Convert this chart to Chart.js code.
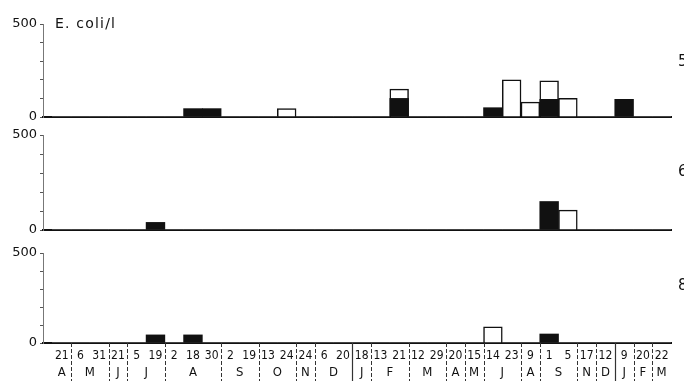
<!DOCTYPE html>
<html>
<head>
<meta charset="utf-8">
<script src="https://cdn.jsdelivr.net/npm/chart.js@4.4.0/dist/chart.umd.min.js"></script>
<style>
  body { margin: 0; width: 684px; height: 383px; overflow: hidden; background: #fff; position: relative; font-family: 'DejaVu Sans', sans-serif; color: #111; }
  canvas { position: absolute; left: 0; top: 0; }
  .unit { position: absolute; left: 55px; top: 16px; font-size: 14px; line-height: 1; letter-spacing: 1.2px; }
  .station { position: absolute; left: 678px; font-size: 15px; line-height: 1; }
</style>
</head>
<body>
<canvas id="panel5" width="684" height="383"></canvas>
<canvas id="panel6" width="684" height="383"></canvas>
<canvas id="panel8" width="684" height="383"></canvas>
<div class="unit">E. coli/l</div>
<div class="station" style="top:54px">5</div>
<div class="station" style="top:164px">6</div>
<div class="station" style="top:278px">8</div>
<script>
// sampling dates, one bar slot each
const dates = ['21', '6', '31', '21', '5', '19', '2', '18', '30', '2', '19', '13', '24', '24', '6', '20',
  '18', '13', '21', '12', '29', '20', '15', '14', '23', '9', '1', '5', '17', '12', '9', '20', '22'];

// month row: letter and index of the first slot of that month
const monthNames = ['A', 'M', 'J', 'J', 'A', 'S', 'O', 'N', 'D', 'J', 'F', 'M', 'A', 'M', 'J', 'A', 'S', 'N', 'D', 'J', 'F', 'M'];
const monthStarts = [0, 1, 3, 4, 6, 9, 11, 13, 14, 16, 17, 19, 21, 22, 23, 25, 26, 28, 29, 30, 31, 32];
const yearStarts = [16, 30];

// E. coli per litre, filled (dark) and open bars
const station5Dark = [0, 0, 0, 0, 0, 0, 0, 45, 45, 0, 0, 0, 0, 0, 0, 0, 0, 0, 100, 0, 0, 0, 0, 50, 0, 0, 95, 0, 0, 0, 95, 0, 0];
const station5Open = [0, 0, 0, 0, 0, 0, 0, 0, 0, 0, 0, 0, 45, 0, 0, 0, 0, 0, 150, 0, 0, 0, 0, 0, 200, 80, 195, 100, 0, 0, 0, 0, 0];
const station6Dark = [0, 0, 0, 0, 0, 40, 0, 0, 0, 0, 0, 0, 0, 0, 0, 0, 0, 0, 0, 0, 0, 0, 0, 0, 0, 0, 150, 0, 0, 0, 0, 0, 0];
const station6Open = [0, 0, 0, 0, 0, 0, 0, 0, 0, 0, 0, 0, 0, 0, 0, 0, 0, 0, 0, 0, 0, 0, 0, 0, 0, 0, 0, 105, 0, 0, 0, 0, 0];
const station8Dark = [0, 0, 0, 0, 0, 45, 0, 45, 0, 0, 0, 0, 0, 0, 0, 0, 0, 0, 0, 0, 0, 0, 0, 0, 0, 0, 50, 0, 0, 0, 0, 0, 0];
const station8Open = [0, 0, 0, 0, 0, 0, 0, 0, 0, 0, 0, 0, 0, 0, 0, 0, 0, 0, 0, 0, 0, 0, 0, 90, 0, 0, 0, 0, 0, 0, 0, 0, 0];

const narrow = "'Liberation Sans Narrow', 'DejaVu Sans Condensed', sans-serif";

const monthCenters = monthStarts.map((start, i) => {
  const end = i + 1 < monthStarts.length ? monthStarts[i + 1] - 1 : dates.length - 1;
  return (start + end) / 2;
});

// dashed month separators, solid at year change
const monthLines = {
  id: 'monthLines',
  afterDraw(chart) {
    const { ctx, chartArea } = chart;
    const x = chart.scales.x;
    ctx.save();
    ctx.strokeStyle = '#333';
    monthStarts.slice(1).forEach((start) => {
      const px = Math.round(x.getPixelForValue(start - 0.5)) + 0.5;
      const solid = yearStarts.includes(start);
      ctx.lineWidth = solid ? 1.2 : 1;
      ctx.setLineDash(solid ? [] : [4, 2]);
      ctx.beginPath();
      ctx.moveTo(px, chartArea.bottom);
      ctx.lineTo(px, chart.height - 2);
      ctx.stroke();
    });
    ctx.restore();
  },
};

function makePanel(id, dark, open, padTop, padBottom, withAxis) {
  const xAxis = {
    type: 'linear',
    min: -1,
    max: 32.5,
    offset: false,
    grid: { display: false, drawTicks: false },
    border: { display: true, color: '#111', width: 2 },
    ticks: { display: false },
    afterFit(scale) { scale.height = 0; },
  };
  const scales = {
    x: xAxis,
    y: {
      min: 0,
      max: 500,
      afterFit(scale) { scale.width = 43; },
      ticks: {
        stepSize: 100,
        autoSkip: false,
        padding: 3,
        color: '#111',
        font: { family: 'DejaVu Sans', size: 13 },
        callback: (v) => (v === 0 || v === 500 ? v : ''),
      },
      grid: { drawOnChartArea: false, tickLength: 3, color: '#555' },
      border: { color: '#777', width: 1 },
    },
  };

  if (withAxis) {
    xAxis.ticks = {
      display: true,
      autoSkip: false,
      maxRotation: 0,
      padding: 6,
      color: '#111',
      font: { family: narrow, size: 12 },
      callback: (v, i) => dates[i],
    };
    xAxis.afterBuildTicks = (scale) => { scale.ticks = dates.map((d, i) => ({ value: i })); };
    xAxis.afterFit = (scale) => { scale.height = 18; };
    scales.x2 = {
      type: 'linear',
      position: 'bottom',
      weight: 1,
      min: -1,
      max: 32.5,
      offset: false,
      grid: { display: false, drawTicks: false },
      border: { display: false },
      ticks: {
        autoSkip: false,
        maxRotation: 0,
        padding: 4,
        color: '#111',
        font: { family: narrow, size: 13 },
        callback: (v, i) => monthNames[i],
      },
      afterBuildTicks(scale) { scale.ticks = monthCenters.map((c) => ({ value: c })); },
      afterFit(scale) { scale.height = 22; },
    };
  }

  return new Chart(document.getElementById(id), {
    type: 'bar',
    data: {
      datasets: [{
        data: dark.map((v, i) => ({ x: i, y: v })),
        backgroundColor: '#111',
        borderWidth: 0,
        grouped: false,
        barPercentage: 1,
        categoryPercentage: 1,
      }, {
        data: open.map((v, i) => ({ x: i, y: v })),
        backgroundColor: '#fff',
        borderColor: '#111',
        borderWidth: (ctx) => (ctx.raw && ctx.raw.y > 0 ? 1.5 : 0),
        borderSkipped: 'start',
        grouped: false,
        barPercentage: 1,
        categoryPercentage: 1,
      }],
    },
    options: {
      responsive: false,
      animation: false,
      devicePixelRatio: 1,
      events: [],
      layout: { padding: { top: padTop, bottom: padBottom, left: 0, right: 13 } },
      plugins: { legend: { display: false }, tooltip: { enabled: false } },
      scales,
    },
    plugins: withAxis ? [monthLines] : [],
  });
}

makePanel('panel5', station5Dark, station5Open, 24, 266, false);
makePanel('panel6', station6Dark, station6Open, 135, 153, false);
makePanel('panel8', station8Dark, station8Open, 253, 0, true);
</script>
</body>
</html>
